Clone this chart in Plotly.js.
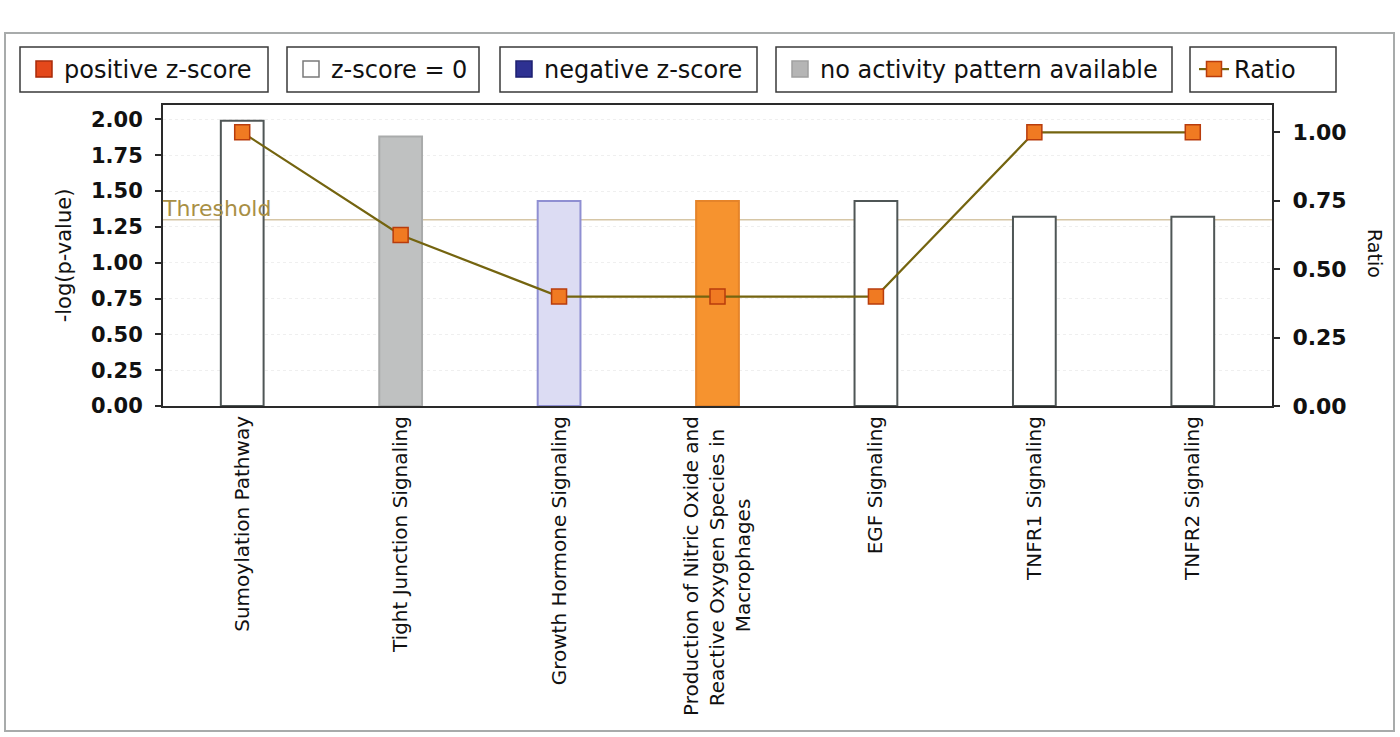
<!DOCTYPE html>
<html>
<head>
<meta charset="utf-8">
<script src="https://cdn.plot.ly/plotly-3.0.1.min.js"></script>
<style>
html,body{margin:0;padding:0;background:#fff;}
#chart{width:1400px;height:737px;}
</style>
</head>
<body>
<div id="chart"></div>
<script>
// ---------- data ----------
const categories = [
  "Sumoylation Pathway",
  "Tight Junction Signaling",
  "Growth Hormone Signaling",
  "Production of Nitric Oxide and<br>Reactive Oxygen Species in<br>Macrophages",
  "EGF Signaling",
  "TNFR1 Signaling",
  "TNFR2 Signaling"
];
const negLogP = [1.99, 1.88, 1.43, 1.43, 1.43, 1.32, 1.32];
const ratio = [1.00, 0.625, 0.40, 0.40, 0.40, 1.00, 1.00];
const zStatus = ["zero", "none", "negative", "positive", "zero", "zero", "zero"];
const threshold = 1.30;
const legendNames = ["positive z-score", "z-score = 0", "negative z-score", "no activity pattern available", "Ratio"];
const leftTicks = [0, 0.25, 0.5, 0.75, 1.0, 1.25, 1.5, 1.75, 2.0];
const rightTicks = [0, 0.25, 0.5, 0.75, 1.0];

// ---------- styles ----------
const barFill = {positive:"#f6932f", zero:"#ffffff", negative:"#dcdcf3", none:"#bfc1c1"};
const barLine = {positive:"#e5842a", zero:"#4f5656", negative:"#8f8fd2", none:"#a9abab"};
const swatch = {
  positive:{color:"#e4481b", line:"#a82a08"},
  zero:{color:"#ffffff", line:"#7a7a7a"},
  negative:{color:"#2e3192", line:"#1c1f70"},
  none:{color:"#b5b5b5", line:"#a0a0a0"}
};
const legendKeys = ["positive", "zero", "negative", "none"];

// geometry helpers (pixel -> paper)
const L = 163, R = 1272, T = 105, B = 406;
const W = R - L, H = B - T;
const px = v => (v - L) / W;
const py = v => (B - v) / H;

const FONT = "DejaVu Sans";
const CAT_SIZE = 20;

// centre multi-line tick labels (Plotly end-anchors rotated labels)
const ctx = document.createElement("canvas").getContext("2d");
ctx.font = CAT_SIZE + "px '" + FONT + "'";
const nbspW = ctx.measureText("\u00A0").width || CAT_SIZE * 0.318;
function centreLabel(lbl) {
  const lines = lbl.split("<br>");
  if (lines.length < 2) return lbl;
  const widths = lines.map(s => ctx.measureText(s).width);
  const maxW = Math.max(...widths);
  return lines.map((s, i) => s + "&nbsp;".repeat(Math.round((maxW - widths[i]) / 2 / nbspW))).join("<br>");
}
const tickText = categories.map(centreLabel);

const traces = [];
traces.push({
  type: "bar",
  x: categories,
  y: negLogP,
  marker: {
    color: zStatus.map(s => barFill[s]),
    line: {color: zStatus.map(s => barLine[s]), width: 2}
  },
  showlegend: false,
  hoverinfo: "x+y"
});
legendKeys.forEach((k, i) => {
  traces.push({
    type: "scatter",
    mode: "markers",
    x: [null], y: [null],
    name: legendNames[i],
    legend: i === 0 ? "legend" : "legend" + (i + 1),
    marker: {symbol: "square", size: 18, color: swatch[k].color, line: {color: swatch[k].line, width: 1.5}},
    hoverinfo: "skip"
  });
});
traces.push({
  type: "scatter",
  mode: "lines+markers",
  x: categories,
  y: ratio,
  yaxis: "y2",
  name: legendNames[4],
  legend: "legend5",
  line: {color: "#74640f", width: 2.2},
  marker: {symbol: "square", size: 15, color: "#f07a22", line: {color: "#b83c0c", width: 1.5}}
});

// legend boxes (pixels)
const boxes = [[20, 268], [287, 479], [500, 757], [776, 1172], [1190, 1336]];
const boxTop = 47, boxBot = 92;

const shapes = [];
// outer frame
shapes.push({type:"rect", xref:"paper", yref:"paper", x0:px(5), x1:px(1394), y0:py(731), y1:py(33),
  line:{color:"#a8abab", width:2}, fillcolor:"rgba(0,0,0,0)", layer:"below"});
boxes.forEach(b => {
  shapes.push({type:"rect", xref:"paper", yref:"paper", x0:px(b[0]), x1:px(b[1]), y0:py(boxBot), y1:py(boxTop),
    line:{color:"#3a3a3a", width:1.5}, fillcolor:"rgba(0,0,0,0)"});
});
// threshold line
shapes.push({type:"line", xref:"paper", yref:"y", x0:0, x1:1, y0:threshold, y1:threshold,
  line:{color:"#d6c6a6", width:1.5}, layer:"below"});

const legendFont = {family: FONT, size: 24, color: "#111"};
const layout = {
  width: 1400, height: 737,
  margin: {l: L, r: 1400 - R, t: T, b: 737 - B},
  paper_bgcolor: "#ffffff",
  plot_bgcolor: "#ffffff",
  showlegend: true,
  bargap: 0.73,
  xaxis: {
    type: "category",
    tickvals: categories,
    ticktext: tickText,
    showline: true, linecolor: "#2a2a2a", linewidth: 2, mirror: true,
    showgrid: false, ticks: "",
    tickangle: -90,
    tickfont: {family: FONT, size: CAT_SIZE, color: "#111"},
    fixedrange: true
  },
  yaxis: {
    range: [0, 2.1],
    tickvals: leftTicks,
    tickformat: ".2f",
    showline: true, linecolor: "#2a2a2a", linewidth: 2,
    ticks: "outside", ticklen: 6, tickwidth: 2, tickcolor: "#2a2a2a",
    ticklabelstandoff: 8,
    showgrid: true, gridcolor: "#efefef", griddash: "dot", gridwidth: 1,
    zeroline: false,
    tickfont: {family: FONT, size: 21, color: "#111", weight: "bold"},
    title: {text: "-log(p-value)", font: {family: FONT, size: 21, color: "#111"}, standoff: 14},
    fixedrange: true
  },
  yaxis2: {
    overlaying: "y", side: "right",
    range: [0, 1.1],
    tickvals: rightTicks,
    tickformat: ".2f",
    showline: true, linecolor: "#2a2a2a", linewidth: 2,
    ticks: "outside", ticklen: 6, tickwidth: 2, tickcolor: "#2a2a2a",
    ticklabelstandoff: 8,
    showgrid: false, zeroline: false,
    tickfont: {family: FONT, size: 22, color: "#111", weight: "bold"},
    fixedrange: true
  },
  shapes: shapes,
  annotations: [
    {text: "Threshold", xref: "paper", yref: "y", x: 0, y: threshold, xanchor: "left", yanchor: "bottom",
      showarrow: false, font: {family: FONT, size: 22, color: "#a88f45"}, xshift: -3, yshift: -3},
    {text: "Ratio", xref: "paper", yref: "paper", x: px(1375), y: py(253), xanchor: "center", yanchor: "middle",
      textangle: 90, showarrow: false, font: {family: FONT, size: 19, color: "#111"}}
  ]
};
const legendIds = ["legend", "legend2", "legend3", "legend4", "legend5"];
legendIds.forEach((id, i) => {
  layout[id] = {
    x: px(boxes[i][0] + 4), y: py((boxTop + boxBot) / 2),
    xanchor: "left", yanchor: "middle",
    bgcolor: "rgba(0,0,0,0)", borderwidth: 0,
    font: legendFont, itemclick: false, itemdoubleclick: false
  };
});

Plotly.newPlot("chart", traces, layout, {staticPlot: true, displayModeBar: false});
</script>
</body>
</html>
